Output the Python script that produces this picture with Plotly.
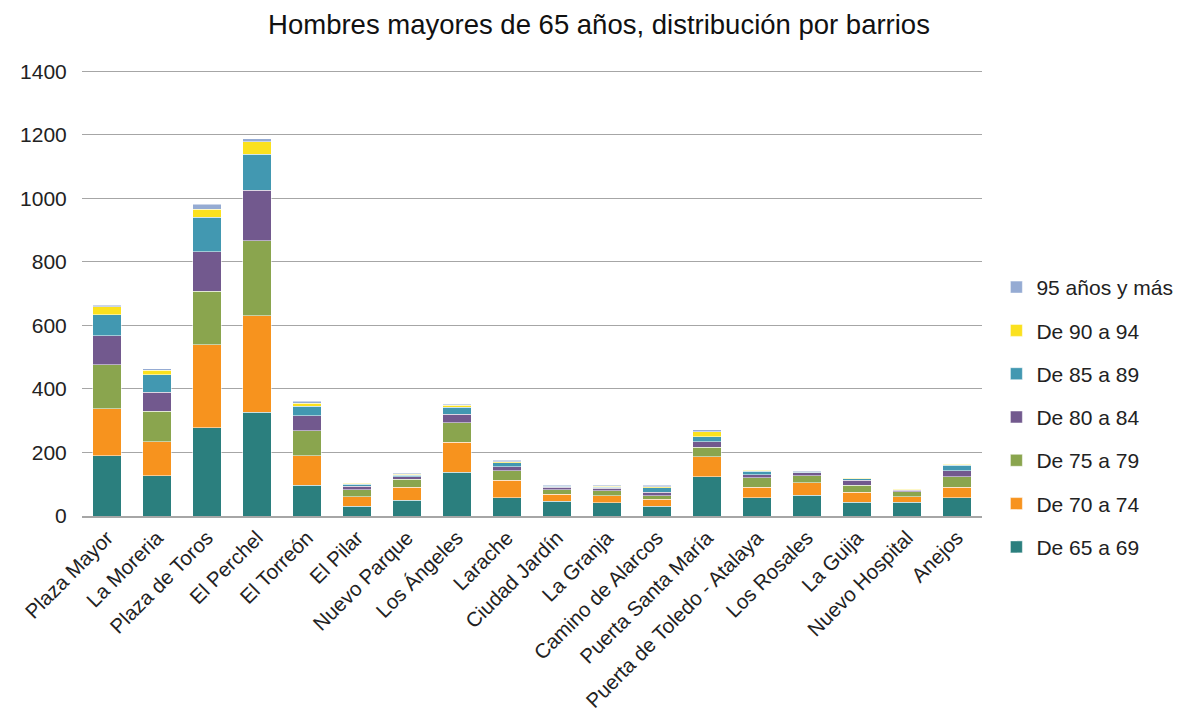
import plotly.graph_objects as go

barrios = ["Plaza Mayor", "La Moreria", "Plaza de Toros", "El Perchel", "El Torreón",
           "El Pilar", "Nuevo Parque", "Los Ángeles", "Larache", "Ciudad Jardín",
           "La Granja", "Camino de Alarcos", "Puerta Santa María",
           "Puerta de Toledo - Atalaya", "Los Rosales", "La Guija", "Nuevo Hospital", "Anejos"]

de_65_69 = [190, 127, 277, 327, 97, 31, 50, 137, 58, 46, 42, 31, 123, 58, 65, 43, 43, 58]
de_70_74 = [147, 106, 262, 303, 93, 30, 40, 95, 54, 22, 22, 22, 63, 32, 40, 32, 18, 32]
de_75_79 = [139, 97, 168, 237, 78, 22, 25, 62, 30, 15, 15, 11, 31, 30, 22, 22, 16, 34]
de_80_84 = [91, 59, 124, 158, 48, 10, 9, 26, 13, 7, 8, 11, 16, 10, 9, 16, 4, 19]
de_85_89 = [66, 56, 109, 113, 29, 7, 5, 22, 12, 4, 4, 14, 17, 11, 2, 5, 2, 17]
de_90_94 = [25, 14, 26, 40, 10, 3, 3, 6, 4, 1, 3, 3, 15, 3, 1, 1, 1, 3]
de_95_mas = [6, 4, 15, 10, 6, 2, 2, 4, 4, 2, 3, 5, 6, 1, 3, 1, 1, 1]

y_ticks = [0, 200, 400, 600, 800, 1000, 1200, 1400]

series = [
    ("De 65 a 69", de_65_69, "#2b7f7e"),
    ("De 70 a 74", de_70_74, "#f7931e"),
    ("De 75 a 79", de_75_79, "#8aa54e"),
    ("De 80 a 84", de_80_84, "#72598e"),
    ("De 85 a 89", de_85_89, "#4298b1"),
    ("De 90 a 94", de_90_94, "#fbe11e"),
    ("95 años y más", de_95_mas, "#95abd3"),
]

fig = go.Figure()
for i, (name, vals, color) in enumerate(series):
    fig.add_trace(go.Bar(
        x=barrios, y=vals, name=name, legendgroup=name,
        legendrank=len(series) - i,  # top of the stack first in the legend
        marker=dict(color=color, line=dict(color="rgba(255,255,255,0.5)", width=1)),
    ))

# the page body adds an 8px offset, margins compensate for it
fig.update_layout(
    barmode="stack",
    bargap=0.43,
    width=1182, height=727,
    paper_bgcolor="white", plot_bgcolor="white",
    font=dict(family="Liberation Sans, Arial, sans-serif", color="#222"),
    title=dict(text="Hombres mayores de 65 años, distribución por barrios",
               x=0.5, xanchor="center", y=0.978, yanchor="middle",
               font=dict(size=27.5, color="#111")),
    margin=dict(l=72, r=205, t=60, b=219),
    legend=dict(traceorder="grouped", tracegroupgap=13,
                x=1.016, y=0.22, xanchor="left", yanchor="middle",
                font=dict(size=21)),
    yaxis=dict(range=[0, 1410], tickvals=y_ticks,
               showgrid=True, gridcolor="#a6a6a6",
               gridwidth=1, zeroline=False, tickfont=dict(size=21),
               ticks="outside", ticklen=10, tickcolor="white", showline=False),
    xaxis=dict(tickangle=-45, tickfont=dict(size=20.5),
               showline=True, linecolor="#a6a6a6", linewidth=1.5, ticks=""),
)

fig.write_html("out.html")
